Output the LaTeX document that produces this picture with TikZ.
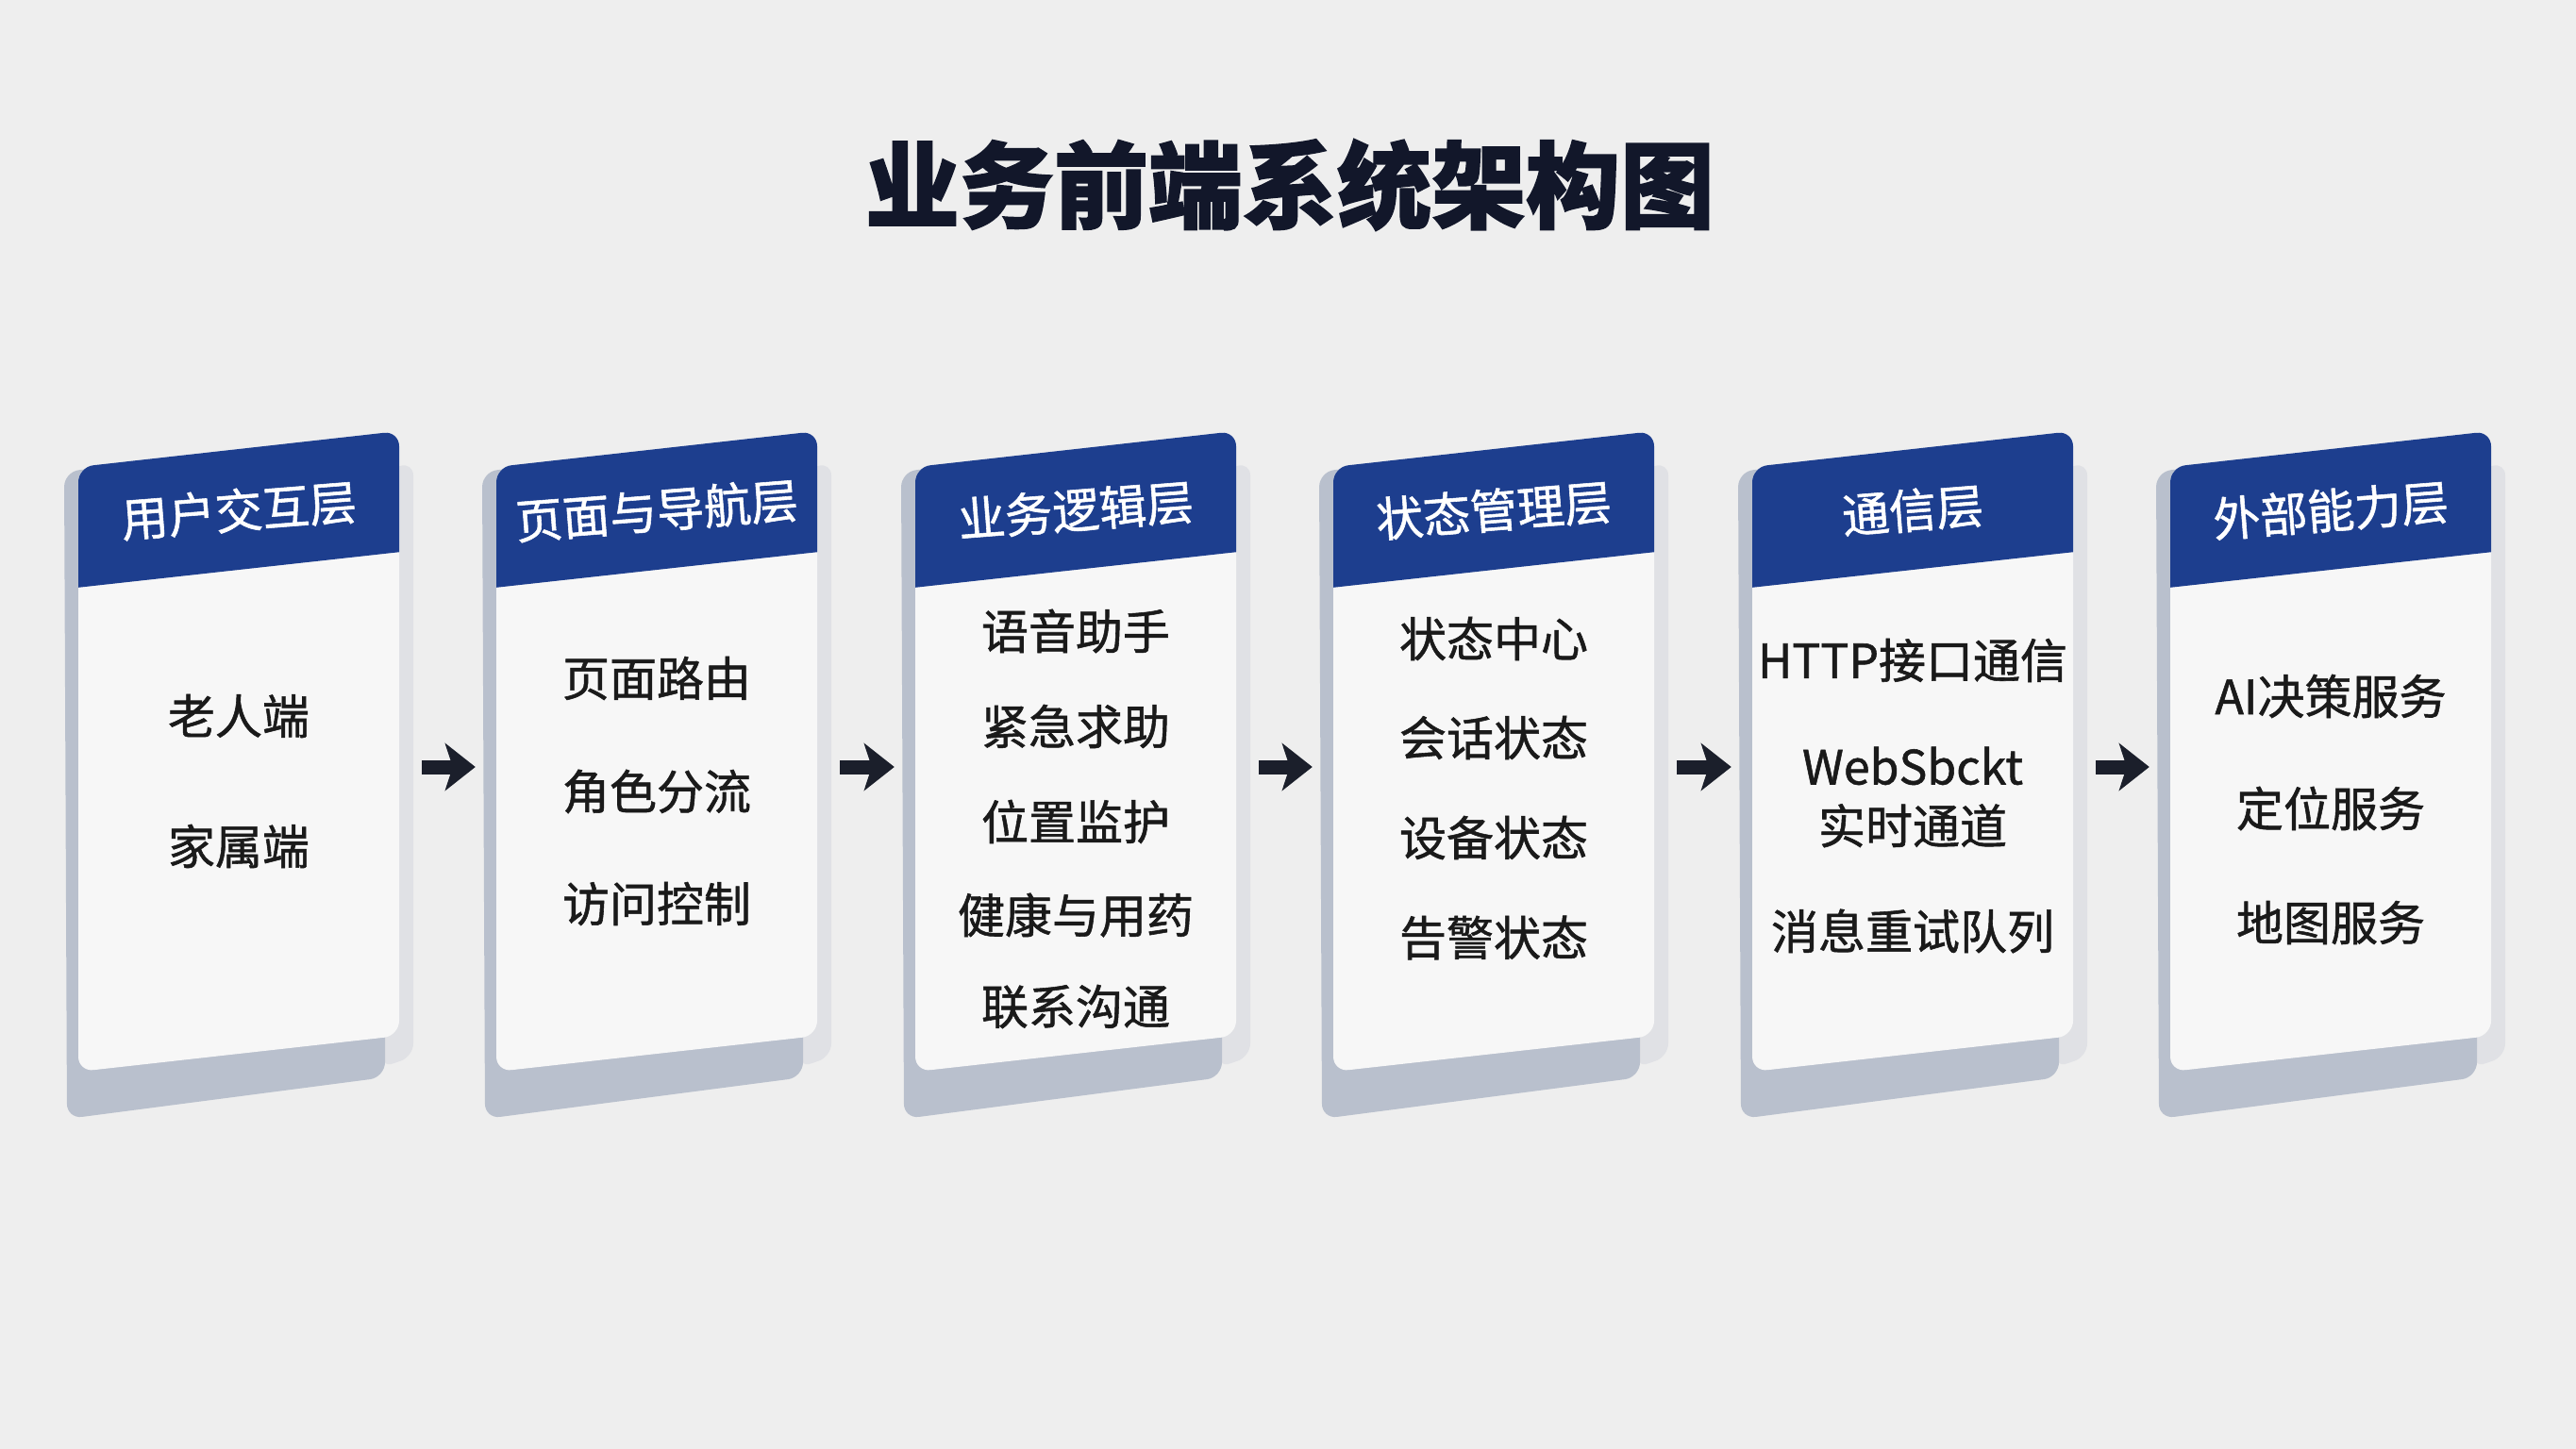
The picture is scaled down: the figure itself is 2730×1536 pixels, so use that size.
\documentclass[tikz,border=0pt]{standalone}
\usepackage{fontspec}
\setmainfont{Noto Sans CJK SC}[UprightFeatures={FakeBold=1.1}, BoldFeatures={FakeBold=1.5}]
\usetikzlibrary{arrows.meta,calc}
\definecolor{bgc}{HTML}{EEEEEE}
\definecolor{headc}{HTML}{1D3E8E}
\definecolor{cardc}{HTML}{F7F7F7}
\definecolor{slabc}{HTML}{B9C0CD}
\definecolor{sidec}{HTML}{E0E1E5}
\definecolor{bodyc}{HTML}{1A1A1A}
\definecolor{titlec}{HTML}{12172A}
\definecolor{arrowc}{HTML}{1B1F2B}
\newcommand\drawcard[3]{%
  \pgfmathsetmacro\cL{#1-170}%
  \pgfmathsetmacro\cR{#1+170}%
  \fill[sidec, rounded corners=14pt]
    (\cR-20,500) -- (\cR+15,490) -- (\cR+15,1120) -- (\cR-20,1132) -- cycle;
  \fill[slabc, rounded corners=16pt]
    (\cL-15,500) -- (\cR-15,462) -- (\cR-15,1142) -- (\cL-12,1186) -- cycle;
  \fill[cardc, rounded corners=16pt] (\cL,495) -- (\cR,457) -- (\cR,1098) -- (\cL,1136) -- cycle;
  \begin{scope}
    \clip[rounded corners=16pt] (\cL,495) -- (\cR,457) -- (\cR,1098) -- (\cL,1136) -- cycle;
    \fill[headc] (\cL-2,400) -- (\cR+2,400) -- (\cR+2,585) -- (\cL-2,623) -- cycle;
  \end{scope}
  \node[cardbox] (#2) at (#1,797) {};
  \node[headtxt] (#2h) at (#1,541) {#3};
}
\begin{document}
\begin{tikzpicture}[x=1pt,y=-1pt,
  body/.style={font=\fontsize{50}{63}\selectfont, text=bodyc, align=center, inner sep=0},
  headtxt/.style={font=\fontsize{50}{60}\selectfont, text=white, rotate=4.5, inner sep=0},
  flow/.style={draw=arrowc, line width=15pt, -{Stealth[length=32pt,width=50pt,inset=8pt]}, shorten <=24pt, shorten >=22pt},
  cardbox/.style={minimum width=340pt, minimum height=640pt, inner sep=0, draw=none}]
\useasboundingbox (0,0) rectangle (2730,1536);
\fill[bgc] (0,0) rectangle (2730,1536);
\node[font=\fontsize{100}{120}\selectfont\bfseries, text=titlec, inner sep=0] (title) at (1367,196) {业务前端系统架构图};

\drawcard{253}{c1}{用户交互层}
\drawcard{696}{c2}{页面与导航层}
\drawcard{1140}{c3}{业务逻辑层}
\drawcard{1583}{c4}{状态管理层}
\drawcard{2027}{c5}{通信层}
\drawcard{2470}{c6}{外部能力层}

\node[body] (t11) at (253,759) {老人端};
\node[body] (t12) at (253,897) {家属端};

\node[body] (t21) at (696,719) {页面路由};
\node[body] (t22) at (696,839) {角色分流};
\node[body] (t23) at (696,958) {访问控制};

\node[body] (t31) at (1140,669) {语音助手};
\node[body] (t32) at (1140,770) {紧急求助};
\node[body] (t33) at (1140,871) {位置监护};
\node[body] (t34) at (1140,970) {健康与用药};
\node[body] (t35) at (1140,1067) {联系沟通};

\node[body] (t41) at (1583,677) {状态中心};
\node[body] (t42) at (1583,782) {会话状态};
\node[body] (t43) at (1583,888) {设备状态};
\node[body] (t44) at (1583,994) {告警状态};

\node[body] (t51) at (2027,700) {HTTP接口通信};
\node[body] (t52) at (2027,845) {WebSbckt\\实时通道};
\node[body] (t53) at (2027,987) {消息重试队列};

\node[body] (t61) at (2470,738) {AI决策服务};
\node[body] (t62) at (2470,857) {定位服务};
\node[body] (t63) at (2470,978) {地图服务};

\coordinate (row) at (0,813);
\draw[flow] (c1.east |- row) -- (c2.west |- row);
\draw[flow] (c2.east |- row) -- (c3.west |- row);
\draw[flow] (c3.east |- row) -- (c4.west |- row);
\draw[flow] (c4.east |- row) -- (c5.west |- row);
\draw[flow] (c5.east |- row) -- (c6.west |- row);
\end{tikzpicture}
\end{document}
